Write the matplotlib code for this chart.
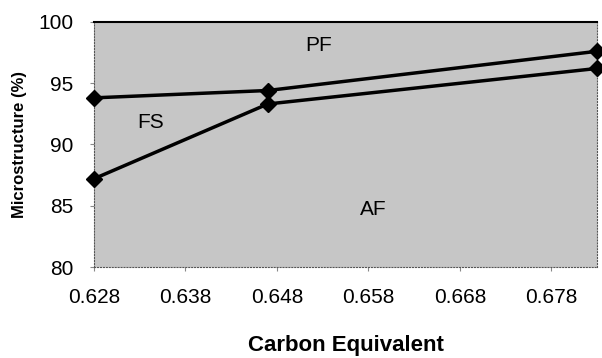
import matplotlib.pyplot as plt

# carbon equivalent vs microstructure fractions
carbon_eq = [0.628, 0.647, 0.683]
upper_line = [93.8, 94.4, 97.6]   # AF + FS boundary (PF above)
lower_line = [87.2, 93.3, 96.2]   # AF boundary
xticks = [0.628, 0.638, 0.648, 0.658, 0.668, 0.678]
yticks = [80, 85, 90, 95, 100]

plt.rcParams['font.family'] = ['Liberation Sans', 'DejaVu Sans']

fig = plt.figure(figsize=(6.02, 3.58), dpi=100)
ax = fig.add_axes([0.156, 0.254, 0.836, 0.685])
ax.set_facecolor('#c6c6c6')

ax.plot(carbon_eq, upper_line, color='black', lw=2.5, marker='D', ms=8, clip_on=False, zorder=3)
ax.plot(carbon_eq, lower_line, color='black', lw=2.5, marker='D', ms=8, clip_on=False, zorder=3)

ax.text(0.6526, 98.1, 'PF', fontsize=15, ha='center', va='center')
ax.text(0.6342, 91.8, 'FS', fontsize=15, ha='center', va='center')
ax.text(0.6585, 84.7, 'AF', fontsize=15, ha='center', va='center')

ax.set_xlim(0.628, 0.683)
ax.set_ylim(80, 100)
ax.set_xticks(xticks)
ax.set_xticklabels([f'{v:.3f}' for v in xticks], fontsize=15)
ax.set_yticks(yticks)
ax.set_yticklabels([str(v) for v in yticks], fontsize=15)
ax.tick_params(length=3, width=0.8, color='#888888', pad=12)

for side in ['left', 'bottom', 'right']:
    ax.spines[side].set_linestyle(':')
    ax.spines[side].set_color('#555555')
    ax.spines[side].set_linewidth(0.8)
ax.spines['top'].set_linewidth(1.5)

ax.set_xlabel('Carbon Equivalent', fontsize=16, fontweight='bold', labelpad=20)
ax.set_ylabel('Microstructure (%)', fontsize=12, fontweight='bold', labelpad=8)

fig.savefig('out.png', dpi=100)
